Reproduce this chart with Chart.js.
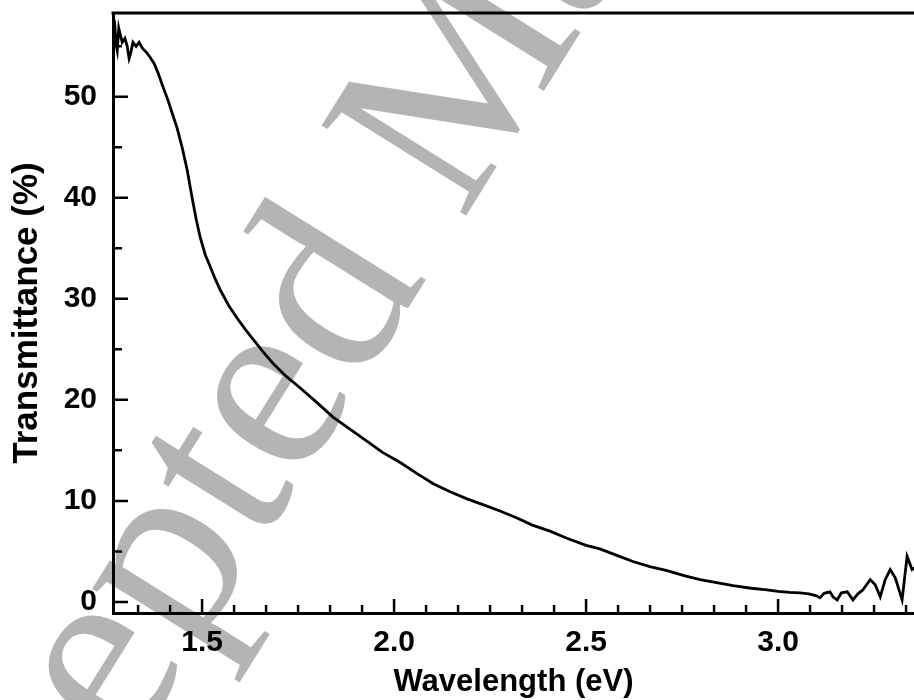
<!DOCTYPE html>
<html lang="en">
<head>
    <meta charset="UTF-8">
    <title>Transmittance vs Wavelength</title>
    <script src="https://cdn.jsdelivr.net/npm/chart.js"></script>
    <style>
        body { margin: 0; background: #fff; }
    </style>
</head>
<body>
    <canvas id="transChart" width="914" height="700"></canvas>

    <script>
        // energy (eV)
        const energy = [
            1.268, 1.273, 1.276, 1.279, 1.283, 1.286, 1.292, 1.299, 1.305, 1.310,
            1.314, 1.320, 1.328, 1.336, 1.345, 1.355, 1.365, 1.375, 1.385, 1.398,
            1.410, 1.422, 1.435, 1.448, 1.461, 1.474, 1.485, 1.495, 1.508, 1.521,
            1.535, 1.547, 1.570, 1.591, 1.612, 1.633, 1.660, 1.685, 1.720, 1.755,
            1.800, 1.841, 1.885, 1.930, 1.970, 2.016, 2.060, 2.102, 2.146, 2.190,
            2.233, 2.276, 2.320, 2.360, 2.406, 2.450, 2.500, 2.536, 2.580, 2.622,
            2.666, 2.711, 2.755, 2.797, 2.840, 2.883, 2.930, 2.971, 3.000, 3.030,
            3.057, 3.080, 3.100, 3.109, 3.120, 3.135, 3.143, 3.154, 3.165, 3.180,
            3.195, 3.208, 3.221, 3.240, 3.253, 3.266, 3.279, 3.292, 3.305, 3.323,
            3.336, 3.349, 3.362
        ];
        // transmittance (%)
        const transmittance = [
            56.2, 56.9, 55.2, 54.6, 56.8, 56.3, 55.4, 55.8, 55.0, 53.8,
            54.3, 55.4, 55.0, 55.4, 54.8, 54.4, 53.9, 53.3, 52.4, 51.0,
            49.8, 48.4, 46.9, 45.0, 42.8, 40.0, 37.8, 36.1, 34.4, 33.2,
            31.9, 30.9, 29.3, 28.1, 27.0, 26.0, 24.7, 23.6, 22.3, 21.2,
            19.7, 18.3, 17.1, 15.9, 14.8, 13.8, 12.7, 11.7, 10.9, 10.2,
            9.6, 9.0, 8.3, 7.6, 7.0, 6.3, 5.6, 5.25, 4.6, 4.0,
            3.5, 3.1, 2.6, 2.2, 1.9, 1.6, 1.35, 1.2, 1.05, 0.95,
            0.9, 0.8, 0.6, 0.4, 0.85, 1.0, 0.5, 0.2, 0.9, 1.0,
            0.2, 0.8, 1.2, 2.2, 1.7, 0.5, 2.2, 3.2, 2.4, 0.2,
            4.5, 3.2, 3.5
        ];

        const xMin = 1.268, xMax = 3.354;
        const yMin = -1.1, yMax = 58.3;
        const xMajor = [1.5, 2.0, 2.5, 3.0];
        const yMajor = [0, 10, 20, 30, 40, 50];

        const points = energy.map((e, i) => ({ x: e, y: transmittance[i] }));

        // grey watermark behind everything
        const watermark = {
            id: 'watermark',
            beforeDraw(chart) {
                const c = chart.ctx;
                c.save();
                c.fillStyle = '#fff';
                c.fillRect(0, 0, chart.width, chart.height);
                c.font = '260px "Liberation Serif", "Times New Roman", serif';
                const lead = c.measureText('Accepted ').width;
                c.translate(462, 222);   // where the "M" starts
                c.rotate(-58 * Math.PI / 180);
                c.fillStyle = '#b4b4b4';
                c.textBaseline = 'alphabetic';
                c.fillText('Accepted Manuscript', -lead, 0);
                c.restore();
            }
        };

        // top frame line + inward ticks (major and minor)
        const frameTicks = {
            id: 'frameTicks',
            afterDraw(chart) {
                const c = chart.ctx;
                const area = chart.chartArea;
                const xs = chart.scales.x, ys = chart.scales.y;
                c.save();
                c.strokeStyle = '#000';
                c.lineWidth = 3;
                c.beginPath();
                c.moveTo(area.left - 1.5, area.top);
                c.lineTo(area.right, area.top);
                c.stroke();

                c.lineWidth = 2.5;
                c.beginPath();
                for (let k = Math.ceil(xMin * 12); k <= Math.floor(xMax * 12); k++) {
                    const px = xs.getPixelForValue(k / 12);
                    const len = (k % 6 === 0) ? 14 : 8;
                    c.moveTo(px, area.bottom);
                    c.lineTo(px, area.bottom - len);
                }
                for (let v = 0; v <= 55; v += 5) {
                    const py = ys.getPixelForValue(v);
                    const len = (v % 10 === 0) ? 15 : 9;
                    c.moveTo(area.left, py);
                    c.lineTo(area.left + len, py);
                }
                c.stroke();
                c.restore();
            }
        };

        const tickFont = { family: '"Liberation Sans", Arial, sans-serif', size: 30, weight: 'bold', lineHeight: 1.2 };

        new Chart(document.getElementById('transChart'), {
            type: 'line',
            data: {
                datasets: [{
                    data: points,
                    borderColor: '#000',
                    borderWidth: 2.8,
                    pointRadius: 0,
                    tension: 0,
                    fill: false
                }]
            },
            options: {
                responsive: false,
                animation: false,
                layout: { padding: { top: 13, right: 0, left: 0, bottom: 0 } },
                plugins: {
                    legend: { display: false },
                    tooltip: { enabled: false }
                },
                scales: {
                    x: {
                        type: 'linear',
                        min: xMin,
                        max: xMax,
                        afterFit: s => { s.height = 87; s.paddingLeft = 0; s.paddingRight = 0; },
                        afterBuildTicks: s => { s.ticks = xMajor.map(v => ({ value: v })); },
                        grid: { display: false },
                        border: { display: true, color: '#000', width: 3 },
                        ticks: {
                            color: '#000',
                            font: tickFont,
                            padding: 4,
                            maxRotation: 0,
                            autoSkip: false,
                            callback: v => v.toFixed(1)
                        },
                        title: {
                            display: true,
                            text: 'Wavelength (eV)',
                            color: '#000',
                            font: { family: '"Liberation Sans", Arial, sans-serif', size: 31, weight: 'bold', lineHeight: 1 },
                            padding: { top: 0, bottom: 2 }
                        }
                    },
                    y: {
                        min: yMin,
                        max: yMax,
                        afterFit: s => { s.width = 113; s.paddingTop = 0; s.paddingBottom = 0; },
                        afterBuildTicks: s => { s.ticks = yMajor.map(v => ({ value: v })); },
                        grid: { display: false },
                        border: { display: true, color: '#000', width: 3 },
                        ticks: {
                            color: '#000',
                            font: tickFont,
                            padding: 8,
                            autoSkip: false
                        },
                        title: {
                            display: true,
                            text: 'Transmittance (%)',
                            color: '#000',
                            font: { family: '"Liberation Sans", Arial, sans-serif', size: 35, weight: 'bold', lineHeight: 1 },
                            padding: { top: 10, bottom: 0 }
                        }
                    }
                }
            },
            plugins: [watermark, frameTicks]
        });
    </script>
</body>
</html>
